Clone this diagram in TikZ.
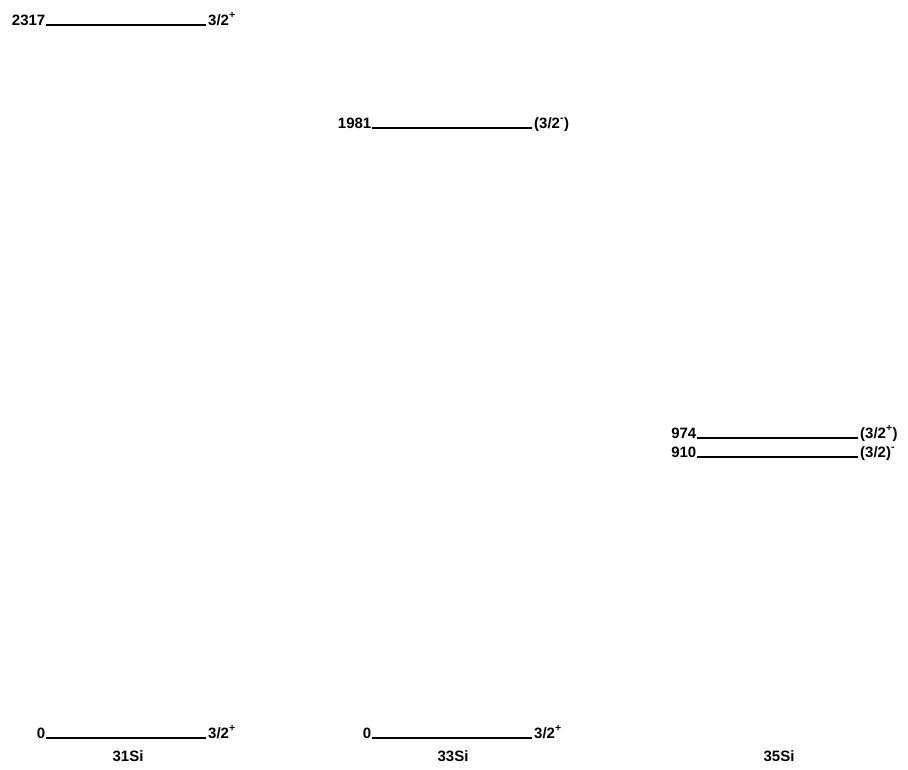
\documentclass[tikz,border=0pt]{standalone}
\usepackage{fontspec}
\setmainfont{Liberation Sans}
\begin{document}
\begin{tikzpicture}[x=1pt,y=-1pt,
  level/.style={line width=1.4pt},
  en/.style={font=\fontsize{15pt}{17pt}\selectfont\bfseries, anchor=base east, inner sep=0.5pt},
  jp/.style={font=\fontsize{15pt}{17pt}\selectfont\bfseries, anchor=base west, inner xsep=2pt, inner ysep=0.5pt},
  nuc/.style={font=\fontsize{15pt}{17pt}\selectfont\bfseries, anchor=base, inner sep=0pt}]
\useasboundingbox (0,0) rectangle (908,769);
% 31Si
\coordinate (a1) at (46,25); \coordinate (b1) at (206,25);
\coordinate (a2) at (46,738); \coordinate (b2) at (206,738);
% 33Si
\coordinate (c1) at (372,128); \coordinate (d1) at (532,128);
\coordinate (c2) at (372,738); \coordinate (d2) at (532,738);
% 35Si
\coordinate (e1) at (697,438); \coordinate (f1) at (858,438);
\coordinate (e2) at (697,457); \coordinate (f2) at (858,457);
\draw[level] (a1) -- (b1);
\draw[level] (a2) -- (b2);
\draw[level] (c1) -- (d1);
\draw[level] (c2) -- (d2);
\draw[level] (e1) -- (f1);
\draw[level] (e2) -- (f2);
\newcommand\spp[1]{\raisebox{1.5pt}{\textsuperscript{#1}}}
\node[en] (la1) at (a1) {2317};
\node[jp] (ra1) at (b1) {3/2\spp{+}};
\node[en] (la2) at (a2) {0};
\node[jp] (ra2) at (b2) {3/2\spp{+}};
\node[en] (lc1) at (c1) {1981};
\node[jp] (rc1) at (d1) {(3/2\spp{-})};
\node[en] (lc2) at (c2) {0};
\node[jp] (rc2) at (d2) {3/2\spp{+}};
\node[en] (le1) at (e1) {974};
\node[jp] (re1) at (f1) {(3/2\spp{+})};
\node[en] (le2) at (e2) {910};
\node[jp] (re2) at (f2) {(3/2)\spp{-}};
\node[nuc] (n31) at (128,761) {31Si};
\node[nuc] (n33) at (453,761) {33Si};
\node[nuc] (n35) at (779,761) {35Si};
\end{tikzpicture}
\end{document}
